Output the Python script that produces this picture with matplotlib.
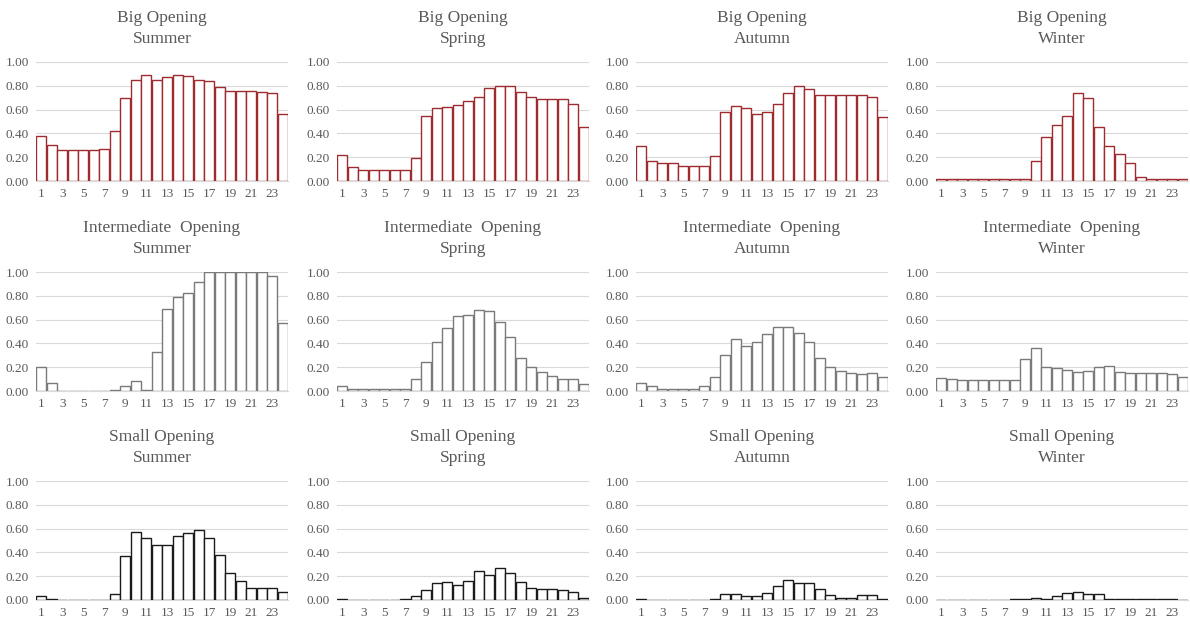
import numpy as np
import matplotlib.pyplot as plt

hours = np.arange(1, 25)
seasons = ['Summer', 'Spring', 'Autumn', 'Winter']
openings = ['Big Opening', 'Intermediate  Opening', 'Small Opening']

big_summer = [0.38, 0.30, 0.26, 0.26, 0.26, 0.26, 0.27, 0.42, 0.70, 0.85, 0.89, 0.85,
              0.87, 0.89, 0.88, 0.85, 0.84, 0.79, 0.76, 0.76, 0.76, 0.75, 0.74, 0.56]
big_spring = [0.22, 0.12, 0.09, 0.09, 0.09, 0.09, 0.09, 0.19, 0.55, 0.61, 0.62, 0.64,
              0.67, 0.71, 0.78, 0.80, 0.80, 0.75, 0.71, 0.69, 0.69, 0.69, 0.65, 0.45]
big_autumn = [0.29, 0.17, 0.15, 0.15, 0.13, 0.13, 0.13, 0.21, 0.58, 0.63, 0.61, 0.56,
              0.58, 0.65, 0.74, 0.80, 0.77, 0.72, 0.72, 0.72, 0.72, 0.72, 0.71, 0.54]
big_winter = [0.02, 0.02, 0.02, 0.02, 0.02, 0.02, 0.02, 0.02, 0.02, 0.17, 0.37, 0.47,
              0.55, 0.74, 0.70, 0.45, 0.29, 0.23, 0.15, 0.03, 0.02, 0.02, 0.02, 0.02]

int_summer = [0.20, 0.07, 0.0, 0.0, 0.0, 0.0, 0.0, 0.01, 0.04, 0.08, 0.01, 0.33,
              0.69, 0.79, 0.82, 0.92, 1.0, 1.0, 1.0, 1.0, 1.0, 1.0, 0.97, 0.57]
int_spring = [0.04, 0.02, 0.02, 0.02, 0.02, 0.02, 0.02, 0.10, 0.24, 0.41, 0.53, 0.63,
              0.64, 0.68, 0.67, 0.58, 0.45, 0.28, 0.20, 0.16, 0.13, 0.10, 0.10, 0.06]
int_autumn = [0.07, 0.04, 0.02, 0.02, 0.02, 0.02, 0.04, 0.12, 0.30, 0.44, 0.38, 0.41,
              0.48, 0.54, 0.54, 0.49, 0.41, 0.28, 0.20, 0.17, 0.15, 0.14, 0.15, 0.12]
int_winter = [0.11, 0.10, 0.09, 0.09, 0.09, 0.09, 0.09, 0.09, 0.27, 0.36, 0.20, 0.19,
              0.18, 0.16, 0.17, 0.20, 0.21, 0.16, 0.15, 0.15, 0.15, 0.15, 0.14, 0.12]

small_summer = [0.03, 0.01, 0.0, 0.0, 0.0, 0.0, 0.0, 0.05, 0.37, 0.57, 0.52, 0.46,
                0.46, 0.54, 0.56, 0.59, 0.52, 0.38, 0.23, 0.16, 0.10, 0.10, 0.10, 0.07]
small_spring = [0.01, 0.0, 0.0, 0.0, 0.0, 0.0, 0.01, 0.03, 0.08, 0.14, 0.15, 0.13,
                0.16, 0.24, 0.21, 0.27, 0.23, 0.15, 0.10, 0.09, 0.09, 0.08, 0.07, 0.02]
small_autumn = [0.01, 0.0, 0.0, 0.0, 0.0, 0.0, 0.0, 0.01, 0.05, 0.05, 0.03, 0.03,
                0.06, 0.12, 0.17, 0.14, 0.14, 0.09, 0.04, 0.02, 0.02, 0.04, 0.04, 0.01]
small_winter = [0.0, 0.0, 0.0, 0.0, 0.0, 0.0, 0.0, 0.01, 0.01, 0.02, 0.01, 0.03,
                0.06, 0.07, 0.05, 0.05, 0.01, 0.005, 0.005, 0.005, 0.005, 0.005, 0.005, 0.0]

data = [[big_summer, big_spring, big_autumn, big_winter],
        [int_summer, int_spring, int_autumn, int_winter],
        [small_summer, small_spring, small_autumn, small_winter]]
edge_colors = ['#9E2B2E', '#7A7A7A', '#1A1A1A']

plt.rcParams['font.family'] = ['Liberation Serif', 'DejaVu Serif']

W, H = 1190, 619
fig = plt.figure(figsize=(W / 100, H / 100), dpi=100)

col_left = [36, 337, 636, 936]
row_top = [62, 272, 481]
ax_w, ax_h = 252, 119

for r in range(3):
    for c in range(4):
        ax = fig.add_axes([col_left[c] / W, 1 - (row_top[r] + ax_h) / H, ax_w / W, ax_h / H])
        ax.bar(hours, data[r][c], width=0.97, color='white',
               edgecolor=edge_colors[r], linewidth=1.0, zorder=3)
        ax.set_xlim(0.5, 24.5)
        ax.set_ylim(0, 1.0)
        ax.set_yticks(np.arange(0, 1.01, 0.2))
        ax.set_yticklabels(['%.2f' % v for v in np.arange(0, 1.01, 0.2)])
        ax.set_xticks(hours[::2])
        ax.grid(axis='y', color='#D9D9D9', linewidth=0.8, zorder=0)
        for s in ['top', 'right', 'left']:
            ax.spines[s].set_visible(False)
        ax.spines['bottom'].set_color('#D9D9D9')
        ax.tick_params(length=0, labelsize=9.5, labelcolor='#595959', pad=5)
        ax.set_title(openings[r] + '\n' + seasons[c], fontsize=12.5, color='#595959',
                     pad=14, linespacing=1.4)

plt.savefig('out.png', dpi=100)
